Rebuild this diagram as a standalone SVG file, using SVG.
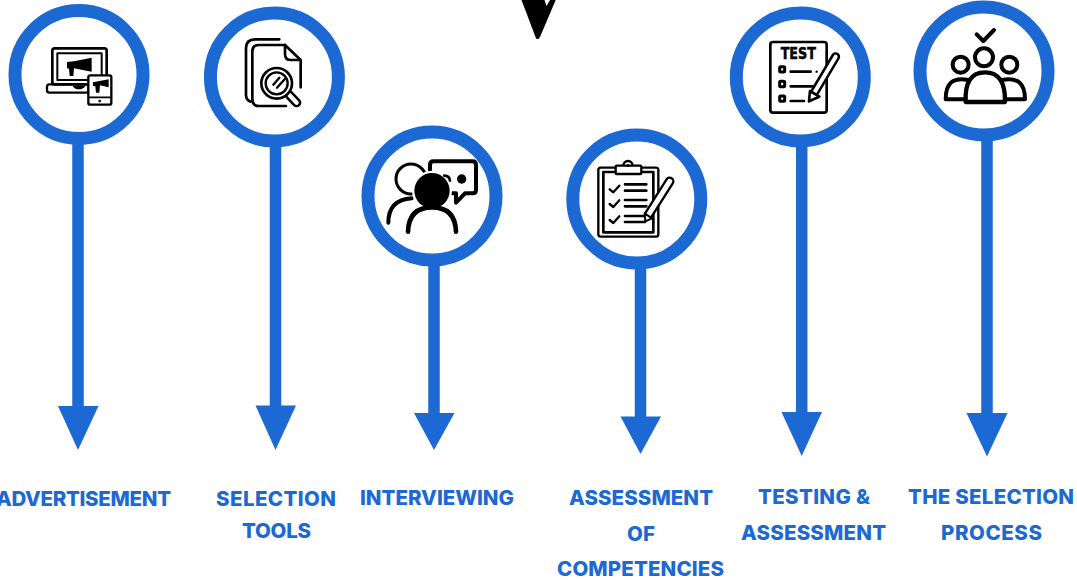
<svg xmlns="http://www.w3.org/2000/svg" width="1077" height="580" viewBox="0 0 1077 580">
<style>
.ring{fill:#fff;stroke:#1c69d4;stroke-width:13}
.shaft{stroke:#1c69d4;stroke-width:11.5;fill:none}
.head{fill:#1c69d4}
.lbl{font-family:"Inter","Roboto","Liberation Sans",sans-serif;font-weight:800;font-size:20.5px;fill:#1c69d4}
.i{fill:none;stroke:#000;stroke-linecap:round;stroke-linejoin:round}
.k{fill:#000;stroke:none}
.w{fill:#fff;stroke:#000;stroke-linejoin:round;stroke-linecap:round}
</style>
<rect width="1077" height="580" fill="#fff"/>
<g id="top-pointer"><polygon points="521.5,0 555.7,0 540,37 538.5,39 536.5,39 535.5,37" fill="#000"/><polygon points="544.5,0 550,0 546.5,6" fill="#fff"/></g>
<g id="connectors">
<line class="shaft" x1="78" y1="140" x2="78" y2="408"/><polygon class="head" points="58,406 98.5,406 78,450"/>
<line class="shaft" x1="275.5" y1="143" x2="275.5" y2="408"/><polygon class="head" points="255.5,405.5 296,405.5 275.5,450"/>
<line class="shaft" x1="434" y1="262" x2="434" y2="415"/><polygon class="head" points="414,413 454.5,413 434,450"/>
<line class="shaft" x1="640.5" y1="265" x2="640.5" y2="418"/><polygon class="head" points="620.5,416.5 661,416.5 640.5,454"/>
<line class="shaft" x1="801.7" y1="143" x2="801.7" y2="414"/><polygon class="head" points="781.5,412 822,412 801.7,456"/>
<line class="shaft" x1="987" y1="141" x2="987" y2="415"/><polygon class="head" points="966.5,413 1007.5,413 987,456.5"/>
</g>
<g id="node-advertisement">
<circle class="ring" cx="79" cy="74.5" r="64"/>
<g transform="scale(.33333)">
<rect class="i" x="157" y="145" width="163" height="108" rx="7" stroke-width="8"/>
<rect class="i" x="172" y="160" width="133" height="80" stroke-width="6"/>
<rect class="i" x="141" y="253" width="125" height="25" rx="7" stroke-width="7"/>
<path class="k" d="M218,258H256Q250,268 236,268Q224,268 218,258Z"/>
<path class="k" d="M201,186L222,184L275,173V215L222,205L220,228H209L207,206L201,205Z"/>
<rect class="w" x="265" y="226" width="69" height="88" rx="6" stroke-width="7"/>
<path class="i" d="M268,292H331" stroke-width="5"/>
<circle class="k" cx="299" cy="303" r="4"/>
<path class="k" d="M279,247L326,238V262L300,256L298,278H288L286,259L279,258Z"/>
</g>
<text class="lbl" x="-4" y="506" textLength="175">ADVERTISEMENT</text>
</g>
<g id="node-selection-tools">
<circle class="ring" cx="274.4" cy="77" r="64"/>
<g transform="scale(.33333)">
<path class="i" stroke-width="8" d="M838,118H765Q738,118 738,145V285Q738,300 752,305"/>
<path class="i" stroke-width="8" d="M855,135H777Q757,135 757,155V298Q757,318 777,318H858"/>
<path class="i" stroke-width="8" d="M855,135V162Q855,180 873,180H902L855,135M902,180V262"/>
<path d="M868,285L890,308" stroke="#000" stroke-width="28" stroke-linecap="round"/>
<path d="M868,285L890,308" stroke="#fff" stroke-width="13" stroke-linecap="round"/>
<circle class="w" cx="830" cy="250" r="46" stroke-width="8"/>
<circle class="i" cx="830" cy="250" r="33" stroke-width="7"/>
<path class="i" stroke-width="7" d="M820,254L838,233M831,263L854,238"/>
</g>
<text class="lbl" x="216" y="506" textLength="120">SELECTION</text>
<text class="lbl" x="242" y="538" textLength="69">TOOLS</text>
</g>
<g id="node-interviewing">
<circle class="ring" cx="432" cy="196" r="64"/>
<g transform="translate(350,0) scale(.33333)">
<circle class="i" cx="183" cy="537" r="45" stroke-width="9"/>
<path class="i" stroke-width="12" d="M115,668Q115,600 185,595"/>
<path class="w" stroke-width="12" fill="#fff" d="M240,515V495Q240,484 250,484H368Q378,484 378,495V570Q378,580 368,580H345L318,608V580H305"/>
<circle cx="246" cy="572" r="60" fill="#fff"/>
<circle class="k" cx="246" cy="572" r="53"/>
<circle class="k" cx="335" cy="537" r="14"/>
<path class="i" stroke-width="8" d="M283,527Q298,527 300,542"/>
<path class="i" stroke-width="14" d="M174,695Q176,622 246,622Q316,622 318,695"/>
</g>
<text class="lbl" x="360" y="505" textLength="154">INTERVIEWING</text>
</g>
<g id="node-assessment-of-competencies">
<circle class="ring" cx="636.8" cy="199" r="64"/>
<g transform="translate(350,0) scale(.33333)">
<rect class="i" x="745" y="503" width="180" height="207" rx="7" stroke-width="7"/>
<rect class="i" x="760" y="516" width="150" height="181" stroke-width="8"/>
<circle class="w" cx="834" cy="497" r="14" stroke-width="7"/>
<rect class="w" x="797" y="497" width="77" height="25" rx="3" stroke-width="7"/>
<circle class="k" cx="834" cy="497" r="4"/>
<path class="i" stroke-width="7" d="M779,568L790,577L808,557M779,612L790,621L808,601M779,660L790,669L808,649"/>
<path class="i" stroke-width="8" d="M825,553H889M825,572H889M825,600H889M825,619H889M825,648H885M825,666H885"/>
<path d="M959,544L897,642" stroke="#000" stroke-width="29" stroke-linecap="round"/>
<path d="M959,544L897,642" stroke="#fff" stroke-width="15" stroke-linecap="round"/>
<path class="w" stroke-width="6" d="M884,640L906,655L886,664Z"/>
</g>
<text class="lbl" x="569" y="505" textLength="144">ASSESSMENT</text>
<text class="lbl" x="627" y="541" textLength="28">OF</text>
<text class="lbl" x="557" y="576" textLength="167">COMPETENCIES</text>
</g>
<g id="node-testing-assessment">
<circle class="ring" cx="800.3" cy="77" r="64"/>
<g transform="translate(720,0) scale(.33333)">
<rect class="i" x="151" y="126" width="169" height="212" rx="8" stroke-width="8"/>
<text x="182" y="177" textLength="106" lengthAdjust="spacingAndGlyphs" font-family="'DejaVu Sans','Liberation Sans',sans-serif" font-weight="700" font-size="48" fill="#000" stroke="#000" stroke-width="1.5">TEST</text>
<rect class="i" x="179" y="200" width="15" height="16" rx="3" stroke-width="9"/>
<rect class="i" x="179" y="244" width="15" height="16" rx="3" stroke-width="9"/>
<rect class="i" x="179" y="288" width="15" height="16" rx="3" stroke-width="9"/>
<path class="i" stroke-width="8" d="M212,215H272M212,259H278M212,303H252"/>
<circle class="k" cx="290" cy="215" r="3.5"/>
<path d="M347,170L283,278" stroke="#000" stroke-width="27" stroke-linecap="round"/>
<path d="M347,170L283,278" stroke="#fff" stroke-width="12" stroke-linecap="round"/>
<path class="w" stroke-width="8" d="M270,273L298,290L267,304Z"/>
</g>
<text class="lbl" x="758" y="504" textLength="112">TESTING &amp;</text>
<text class="lbl" x="741" y="540" textLength="145">ASSESSMENT</text>
</g>
<g id="node-selection-process">
<circle class="ring" cx="984" cy="71" r="64"/>
<g transform="translate(720,0) scale(.33333)">
<path class="i" stroke-width="12" d="M770,103L790,123L822,90"/>
<circle class="i" cx="792" cy="172" r="27" stroke-width="12"/>
<circle class="i" cx="722" cy="194" r="24" stroke-width="12"/>
<circle class="i" cx="868" cy="194" r="24" stroke-width="12"/>
<path class="i" stroke-width="12" d="M745,240Q677,225 677,298H735M845,240Q915,225 915,298H857"/>
<path class="w" stroke-width="13" fill="#fff" d="M737,306Q733,217 795,217Q857,217 855,306Z"/>
</g>
<text class="lbl" x="908" y="504" textLength="166">THE SELECTION</text>
<text class="lbl" x="941" y="540" textLength="101">PROCESS</text>
</g>
</svg>
